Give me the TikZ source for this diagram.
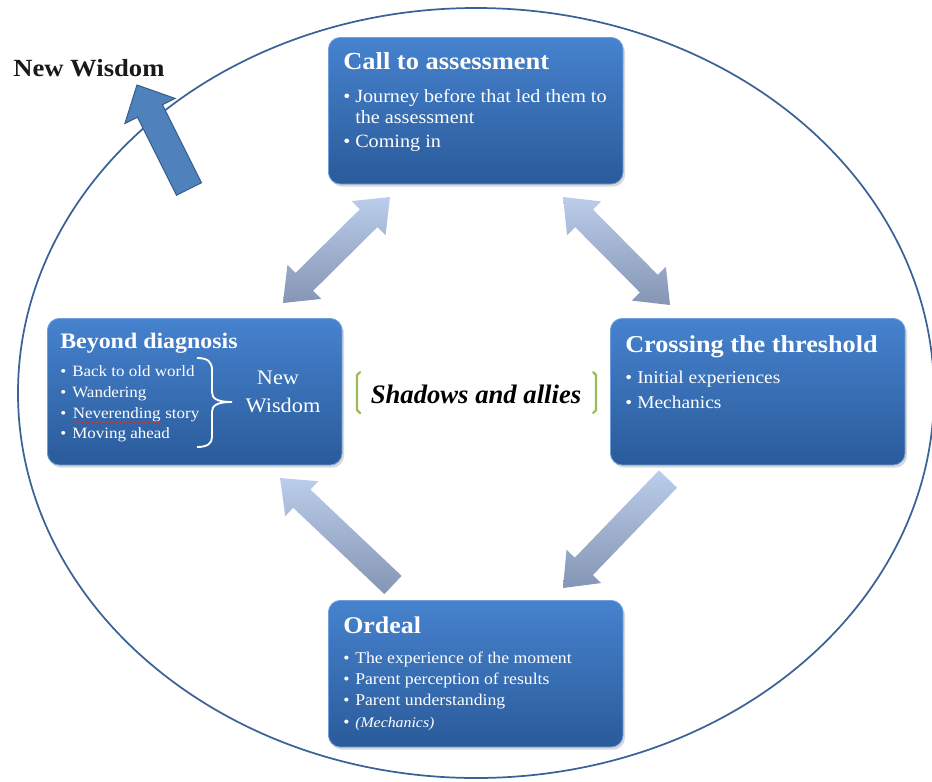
\documentclass[tikz,border=0pt]{standalone}
\usepackage{fontspec}
\setmainfont{Liberation Serif}
\newfontfamily\garfont[FakeStretch=1.08]{Liberation Serif}
\usetikzlibrary{calc,shadows,decorations.pathmorphing}
\definecolor{boxtop}{HTML}{4682CE}
\definecolor{boxbot}{HTML}{2A5B9A}
\definecolor{boxrim}{HTML}{6FA0DC}
\definecolor{arrtop}{HTML}{BACDEA}
\definecolor{arrbot}{HTML}{8595B5}
\definecolor{ringblue}{HTML}{3A6296}
\definecolor{nwblue}{HTML}{4F81BD}
\definecolor{nwline}{HTML}{3A5F8B}
\definecolor{bracketgreen}{HTML}{9BBB59}
\definecolor{spellred}{HTML}{D03030}

\newcommand\blkarrow[6]{%
  \coordinate (h1) at ($(#3)!#6!(#2)$);
  \path[#1] ($(#2)!#4!90:(#3)$) -- ($(h1)!#4!90:(#3)$) -- ($(h1)!#5!90:(#3)$) -- (#3)
     -- ($(h1)!#5!-90:(#3)$) -- ($(h1)!#4!-90:(#3)$) -- ($(#2)!#4!-90:(#3)$) -- cycle;}
\newcommand\dblarrow[6]{%
  \coordinate (h1) at ($(#3)!#6!(#2)$);
  \coordinate (h2) at ($(#2)!#6!(#3)$);
  \path[#1] (#2) -- ($(h2)!#5!90:(#3)$) -- ($(h2)!#4!90:(#3)$) -- ($(h1)!#4!90:(#3)$)
     -- ($(h1)!#5!90:(#3)$) -- (#3) -- ($(h1)!#5!-90:(#3)$) -- ($(h1)!#4!-90:(#3)$)
     -- ($(h2)!#4!-90:(#3)$) -- ($(h2)!#5!-90:(#3)$) -- cycle;}
\newcommand\bul[1]{\makebox[9pt][l]{\textbullet}#1}

\tikzset{
  stagebox/.style={rectangle, rounded corners=9pt, minimum width=221pt, minimum height=110pt,
    anchor=north west, top color=boxtop, bottom color=boxbot, draw=boxrim, line width=0.6pt,
    drop shadow={opacity=0.3, shadow xshift=1.5pt, shadow yshift=-2pt}},
  stagetitle/.style={anchor=base west, text=white, inner sep=0pt},
  item/.style={anchor=base west, text=white, inner sep=0pt},
  lightarrow/.style={top color=arrtop, bottom color=arrbot, draw=none},
  wisdomarrow/.style={fill=nwblue, draw=nwline, line width=0.8pt},
}

\begin{document}
\begin{tikzpicture}[x=0.75pt, y=-0.75pt]
\useasboundingbox (0,0) rectangle (932,782);

% surrounding ellipse
\draw[ringblue, line width=1.3pt] (476,393) ellipse [x radius=343.5pt, y radius=288.75pt];

% New Wisdom arrow
\coordinate (nwtail) at (189,189);
\coordinate (nwtip) at (137,85);
\blkarrow{wisdomarrow}{nwtail}{nwtip}{10.5pt}{21pt}{21.75pt}
\node[anchor=base west, inner sep=0pt, text=black!90, font=\garfont\bfseries\fontsize{18.5}{20}\selectfont] (nwlabel) at (13,76) {New Wisdom};

% stage boxes
\node[stagebox] (call) at (328,37) {};
\node[stagebox] (beyond) at (47,318) {};
\node[stagebox] (cross) at (610,318) {};
\node[stagebox] (ordeal) at (328,600) {};

% connecting arrows
\coordinate (a1s) at (283,303);
\coordinate (a1e) at (390,197);
\coordinate (a2s) at (563,197);
\coordinate (a2e) at (670,305);
\coordinate (a3s) at (668,479);
\coordinate (a3e) at (563,588);
\coordinate (a4s) at (393,585);
\coordinate (a4e) at (280,478);
\dblarrow{lightarrow}{a1s}{a1e}{9.4pt}{18pt}{22.5pt}
\dblarrow{lightarrow}{a2s}{a2e}{9.4pt}{18pt}{22.5pt}
\blkarrow{lightarrow}{a3s}{a3e}{9.4pt}{18pt}{22.5pt}
\blkarrow{lightarrow}{a4s}{a4e}{9.4pt}{18pt}{22.5pt}

% Call to assessment
\node[stagetitle, font=\garfont\bfseries\fontsize{18.4}{20}\selectfont] (callt) at (343,69) {Call to assessment};
\begin{scope}[every node/.append style={font=\garfont\fontsize{14}{16}\selectfont}]
\node[item] (call1) at (343,102) {\bul{Journey before that led them to}};
\node[item] (call2) at (355,123) {the assessment};
\node[item] (call3) at (343,147) {\bul{Coming in}};
\end{scope}

% Beyond diagnosis
\node[stagetitle, font=\garfont\bfseries\fontsize{16.6}{18}\selectfont] (beyt) at (60,348) {Beyond diagnosis};
\begin{scope}[every node/.append style={font=\garfont\fontsize{11.8}{14}\selectfont}]
\node[item] (bey1) at (60,376) {\bul{Back to old world}};
\node[item] (bey2) at (60,397) {\bul{Wandering}};
\node[item] (bey3) at (60,418) {\makebox[9pt][l]{\textbullet}};
\node[item, anchor=base west] (nev) at (bey3.base east) {Neverending};
\node[item, anchor=base west] (bey3b) at (nev.base east) {\ story};
\node[item] (bey4) at (60,438) {\bul{Moving ahead}};
\end{scope}
\draw[spellred, line width=0.5pt, decorate, decoration={snake, amplitude=0.6pt, segment length=2.6pt}]
  ([yshift=-3pt]nev.base west) -- ([yshift=-3pt]nev.base east);
\draw[white, line width=1.4pt]
  (197,358) .. controls (208,358) and (212,362) .. (212,370) -- (212,392)
  .. controls (212,398) and (216,402) .. (232,402)
  .. controls (216,402) and (212,406) .. (212,412) -- (212,437)
  .. controls (212,443) and (208,447) .. (197,447);
\node[anchor=base, inner sep=0pt, text=white, font=\garfont\fontsize{15.5}{17}\selectfont] (bnew) at (278,384) {New};
\node[anchor=base, inner sep=0pt, text=white, font=\garfont\fontsize{15.5}{17}\selectfont] (bwis) at (283,412) {Wisdom};

% Crossing the threshold
\node[stagetitle, font=\garfont\bfseries\fontsize{18.2}{20}\selectfont] (crosst) at (625,352) {Crossing the threshold};
\begin{scope}[every node/.append style={font=\garfont\fontsize{13.5}{16}\selectfont}]
\node[item] (cross1) at (625,383) {\bul{Initial experiences}};
\node[item] (cross2) at (625,408) {\bul{Mechanics}};
\end{scope}

% Ordeal
\node[stagetitle, font=\garfont\bfseries\fontsize{18}{20}\selectfont] (ordt) at (343,633) {Ordeal};
\begin{scope}[every node/.append style={font=\garfont\fontsize{12.3}{14}\selectfont}]
\node[item] (ord1) at (343,663) {\bul{The experience of the moment}};
\node[item] (ord2) at (343,684) {\bul{Parent perception of results}};
\node[item] (ord3) at (343,705) {\bul{Parent understanding}};
\node[item] (ord4) at (343,727) {\bul{\itshape\fontsize{11}{13}\selectfont(Mechanics)}};
\end{scope}

% Shadows and allies
\node[anchor=base, inner sep=0pt, font=\bfseries\itshape\fontsize{20}{22}\selectfont] (shadows) at (476,403) {Shadows and allies};
\draw[bracketgreen, line width=1.6pt, line cap=round] (360,372) -- (357,375) -- (357,410) -- (360,413);
\draw[bracketgreen, line width=1.6pt, line cap=round] (593,372) -- (596,375) -- (596,410) -- (593,413);
\end{tikzpicture}
\end{document}
